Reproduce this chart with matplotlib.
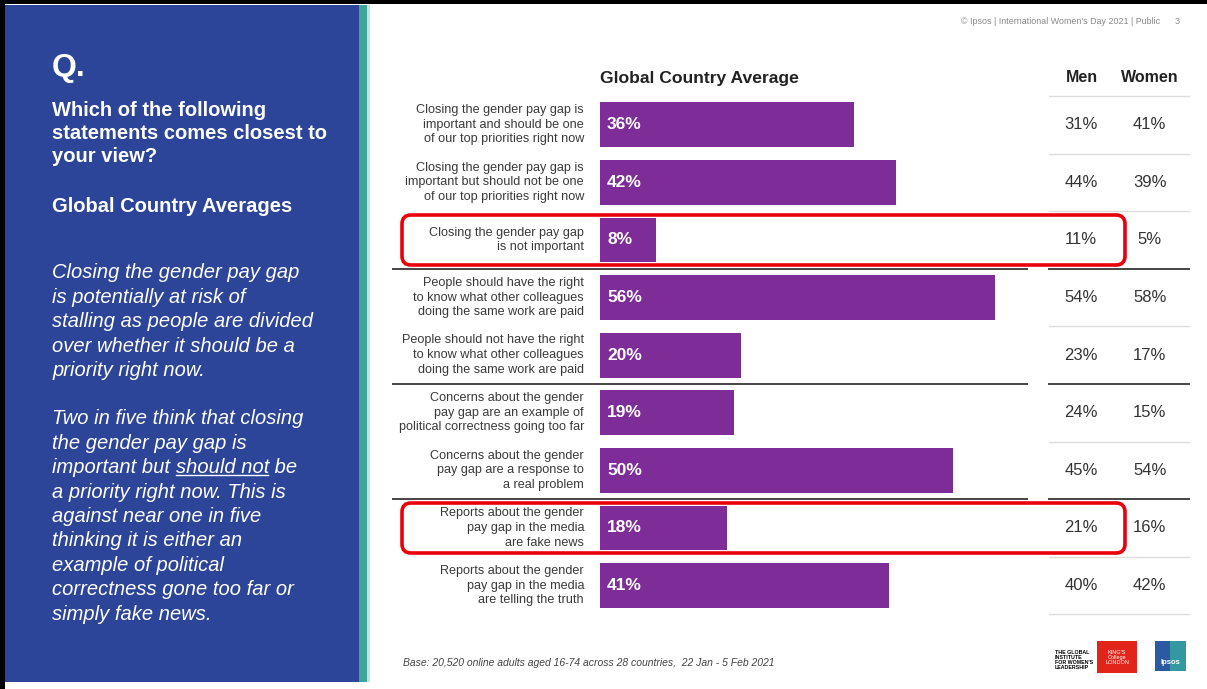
import matplotlib.pyplot as plt
from matplotlib.patches import Rectangle, FancyBboxPatch
import numpy as np

plt.rcParams['font.family'] = ['Liberation Sans', 'DejaVu Sans']

# data
statements = [
    "Closing the gender pay gap is\nimportant and should be one\nof our top priorities right now",
    "Closing the gender pay gap is\nimportant but should not be one\nof our top priorities right now",
    "Closing the gender pay gap\nis not important",
    "People should have the right\nto know what other colleagues\ndoing the same work are paid",
    "People should not have the right\nto know what other colleagues\ndoing the same work are paid",
    "Concerns about the gender\npay gap are an example of\npolitical correctness going too far",
    "Concerns about the gender\npay gap are a response to\na real problem",
    "Reports about the gender\npay gap in the media\nare fake news",
    "Reports about the gender\npay gap in the media\nare telling the truth",
]
global_avg = [36, 42, 8, 56, 20, 19, 50, 18, 41]
men = [31, 44, 11, 54, 23, 24, 45, 21, 40]
women = [41, 39, 5, 58, 17, 15, 54, 16, 42]
dividers = [3, 5, 7]       # dark rule above these rows
highlight = [2, 7]         # rows boxed in red

BAR = '#7E2C98'
PANEL = '#2D4598'
TEAL = '#3FA59B'
TXT = '#333333'

W, H = 1207, 689
fig = plt.figure(figsize=(W / 100, H / 100), dpi=100)

# pixel-space overlay for slide decoration
bg = fig.add_axes([0, 0, 1, 1])
bg.set_xlim(0, W)
bg.set_ylim(H, 0)
bg.axis('off')

top, row_h = 96, 57.6
def row_px(i):
    return top + (i + 0.5) * row_h

# left panel
bg.add_patch(Rectangle((5, 5), 354, 677, color=PANEL, lw=0))
bg.add_patch(Rectangle((359, 5), 8, 677, color=TEAL, lw=0))
bg.add_patch(Rectangle((367, 5), 3, 677, color='#BFE3DF', lw=0))
bg.add_patch(Rectangle((0, 0), W, 4, color='black', lw=0))
bg.add_patch(Rectangle((0, 0), 5, H, color='black', lw=0))

PFS = 14.5
bg.text(52, 68, "Q.", color='white', fontsize=23, fontweight='bold', va='center')
for k, line in enumerate(["Which of the following", "statements comes closest to", "your view?"]):
    bg.text(52, 110 + k * 23.5, line, color='white', fontsize=PFS, fontweight='bold', va='center')
bg.text(52, 207, "Global Country Averages", color='white', fontsize=PFS, fontweight='bold', va='center')

para1 = ["Closing the gender pay gap", "is potentially at risk of",
         "stalling as people are divided", "over whether it should be a",
         "priority right now."]
for k, line in enumerate(para1):
    bg.text(52, 273 + k * 24.4, line, color='white', fontsize=PFS, style='italic', va='center')

para2 = ["Two in five think that closing", "the gender pay gap is",
         None, "a priority right now. This is",
         "against near one in five", "thinking it is either an",
         "example of political", "correctness gone too far or",
         "simply fake news."]
renderer = fig.canvas.get_renderer()
inv = bg.transData.inverted()
for k, line in enumerate(para2):
    y = 419 + k * 24.4
    if line is not None:
        bg.text(52, y, line, color='white', fontsize=PFS, style='italic', va='center')
        continue
    t1 = bg.text(52, y, "important but ", color='white', fontsize=PFS, style='italic', va='center')
    x1 = inv.transform(t1.get_window_extent(renderer).get_points())[1][0]
    t2 = bg.text(x1, y, "should not", color='white', fontsize=PFS, style='italic', va='center')
    x2 = inv.transform(t2.get_window_extent(renderer).get_points())[1][0]
    bg.plot([x1, x2 - 1], [y + 7.5, y + 7.5], color='white', lw=1)
    bg.text(x2, y, " be", color='white', fontsize=PFS, style='italic', va='center')

# bar chart
x0, x1px = 600, 1010
px_per_pct = 7.05
ax = fig.add_axes([x0 / W, 1 - (top + 9 * row_h) / H, (x1px - x0) / W, 9 * row_h / H])
ax.set_xlim(0, (x1px - x0) / px_per_pct)
ax.set_ylim(len(statements) - 0.5, -0.5)
ax.axis('off')
rows = np.arange(len(statements))
ax.barh(rows, global_avg, height=0.78, color=BAR)
for i, v in enumerate(global_avg):
    ax.text(1.0, i, f"{v}%", color='white', fontsize=12.5, fontweight='bold', va='center')

yt = ax.get_yaxis_transform()
for i, s in enumerate(statements):
    ax.text(-0.039, i, s, transform=yt, ha='right', va='center', fontsize=9.1,
            color='#3a3a3a', linespacing=1.3)
    ax.text(1.173, i, f"{men[i]}%", transform=yt, ha='center', va='center', fontsize=12, color=TXT)
    ax.text(1.341, i, f"{women[i]}%", transform=yt, ha='center', va='center', fontsize=12, color=TXT)

# table separators
tx0, tx1 = (1049 - x0) / (x1px - x0), (1189 - x0) / (x1px - x0)
for b in range(len(statements) + 1):
    y = b - 0.5
    if b in dividers:
        continue
    ax.plot([tx0, tx1], [y, y], transform=yt, color='#dddddd', lw=1, clip_on=False)
for b in dividers:
    y = b - 0.5
    ax.plot([(393 - x0) / (x1px - x0), (1027 - x0) / (x1px - x0)], [y, y], transform=yt,
            color='#444444', lw=1.4, clip_on=False)
    ax.plot([tx0, tx1], [y, y], transform=yt, color='#444444', lw=1.4, clip_on=False)

# headers
bg.text(600, 78, "Global Country Average", fontsize=12.6, fontweight='bold', color='#222222', va='center')
bg.text(1082, 78, "Men", fontsize=11.5, fontweight='bold', color='#222222', ha='center', va='center')
bg.text(1150, 78, "Women", fontsize=11.5, fontweight='bold', color='#222222', ha='center', va='center')

# red highlight boxes
for i in highlight:
    yc = row_px(i)
    bg.add_patch(FancyBboxPatch((402, yc - 25), 723, 50,
                                boxstyle="round,pad=0,rounding_size=9",
                                fill=False, ec='#E8000B', lw=2.6))

# footer and page tag
bg.text(403, 663, "Base: 20,520 online adults aged 16-74 across 28 countries,  22 Jan - 5 Feb 2021",
        fontsize=7.45, style='italic', color='#444444', va='center')
bg.text(1160, 22, "© Ipsos | International Women's Day 2021 | Public", fontsize=6.4,
        color='#888888', ha='right', va='center')
bg.text(1177, 22, "3", fontsize=6.4, color='#888888', ha='center', va='center')

# logos
bg.text(1055, 660, "THE GLOBAL\nINSTITUTE\nFOR WOMEN'S\nLEADERSHIP", fontsize=3.8,
        fontweight='bold', color='black', va='center', linespacing=1.0)
bg.add_patch(Rectangle((1097, 641), 40, 32, color='#E1251B', lw=0))
bg.text(1117, 657, "KING'S\nCollege\nLONDON", fontsize=4, color='white',
        ha='center', va='center', linespacing=1.0)
bg.add_patch(Rectangle((1155, 641), 31, 30, color='#2C5AA0', lw=0))
bg.add_patch(Rectangle((1170, 641), 16, 30, color='#37A8A0', lw=0, alpha=0.8))
bg.text(1170, 662, "Ipsos", fontsize=5.5, color='white', ha='center', va='center', fontweight='bold')

fig.savefig('out.png', dpi=100)
